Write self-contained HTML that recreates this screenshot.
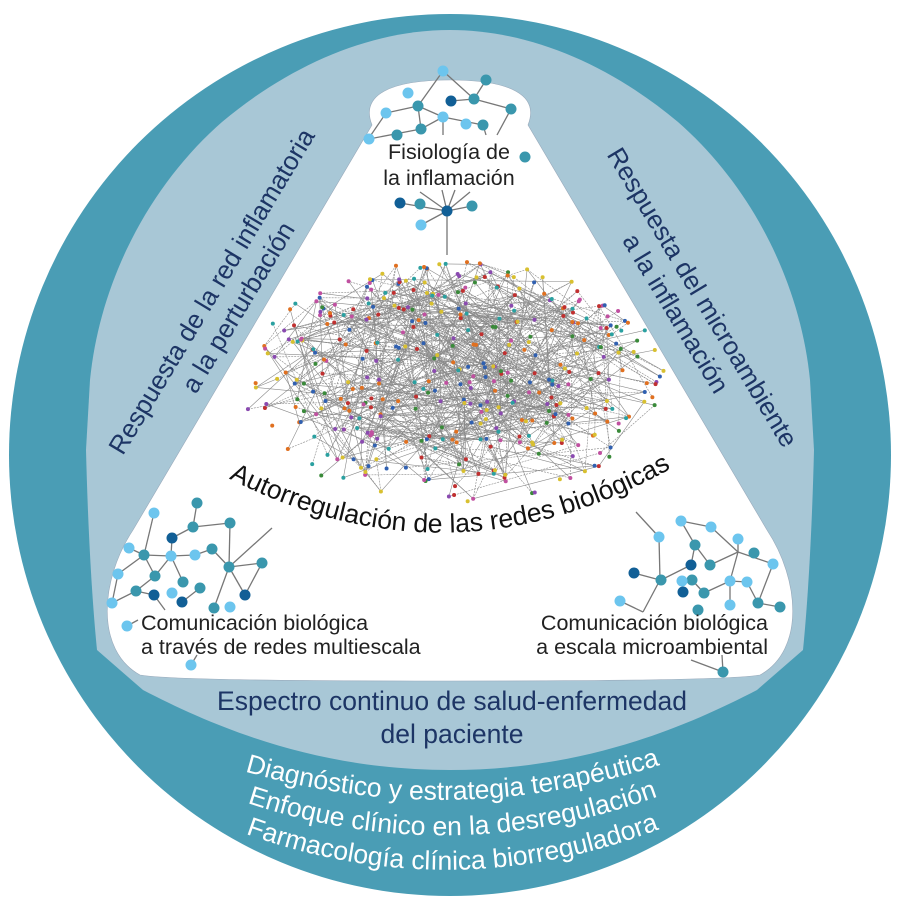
<!DOCTYPE html>
<html><head><meta charset="utf-8"><style>
html,body{margin:0;padding:0;background:#fff}
svg{display:block}
text{font-family:"Liberation Sans",sans-serif}
</style></head><body>
<svg id="s" width="900" height="900" viewBox="0 0 900 900" xmlns="http://www.w3.org/2000/svg">
<circle cx="450" cy="455" r="441" fill="#4a9db5"/>
<path d="M450 30 C370 30 290 65 222 122 C150 185 100 280 90 380 L86 450 C88 530 92 600 97 650 L143 690 C220 730 320 770 450 770 C580 770 680 730 757 690 L803 650 C808 600 812 530 814 450 L810 380 C800 280 750 185 678 122 C610 65 530 30 450 30 Z" fill="#a8c7d6"/>
<path d="M372 125 C360 95 390 80 450 80 C510 80 540 95 528 125 L767 530 C800 580 805 650 760 675 C730 680 600 681 450 681 C300 681 170 680 140 675 C95 650 100 580 133 530 Z" fill="#fff" stroke="#9ab" stroke-width="0.6"/>
<g id="hair"></g>
<g id="small" stroke="#777" stroke-width="1.3"></g>
<text font-size="21.5" fill="#222" text-anchor="middle"><tspan x="449" y="159">Fisiología de</tspan><tspan x="449" y="185">la inflamación</tspan></text>
<text font-size="21.5" fill="#222"><tspan x="141" y="630">Comunicación biológica</tspan><tspan x="141" y="654">a través de redes multiescala</tspan></text>
<text font-size="21.5" fill="#222" text-anchor="end"><tspan x="768" y="630">Comunicación biológica</tspan><tspan x="768" y="654">a escala microambiental</tspan></text>
<path id="arc" d="M228 478 Q450 592 672 468" fill="none"/>
<text font-size="26.5" fill="#111"><textPath href="#arc" startOffset="50%" text-anchor="middle">Autorregulación de las redes biológicas</textPath></text>
<text font-size="26" fill="#1d3565" text-anchor="middle" transform="translate(226,300) rotate(-59)"><tspan x="0" y="-8">Respuesta de la red inflamatoria</tspan><tspan x="0" y="23">a la perturbación</tspan></text>
<text font-size="26" fill="#1d3565" text-anchor="middle" transform="translate(688,306) rotate(59)"><tspan x="0" y="-8">Respuesta del microambiente</tspan><tspan x="0" y="23">a la inflamación</tspan></text>
<text font-size="26.5" fill="#1d3565" text-anchor="middle"><tspan x="452" y="710">Espectro continuo de salud-enfermedad</tspan><tspan x="452" y="743">del paciente</tspan></text>
<path id="b1" d="M230 767 Q452 836 675 760" fill="none"/>
<path id="b2" d="M230 797 Q452 877 675 790" fill="none"/>
<path id="b3" d="M230 828 Q452 914 675 823" fill="none"/>
<g font-size="26.5" fill="#fff">
<text><textPath href="#b1" startOffset="50%" text-anchor="middle">Diagnóstico y estrategia terapéutica</textPath></text>
<text><textPath href="#b2" startOffset="50%" text-anchor="middle">Enfoque clínico en la desregulación</textPath></text>
<text><textPath href="#b3" startOffset="50%" text-anchor="middle">Farmacología clínica biorreguladora</textPath></text>
</g>
</svg>
<script>
var NS="http://www.w3.org/2000/svg";
function el(p,t,a){var e=document.createElementNS(NS,t);for(var k in a)e.setAttribute(k,a[k]);p.appendChild(e);return e;}
var h=document.getElementById('hair');
var seed=7;function r(){seed=(seed*16807)%2147483647;return seed/2147483647;}
var pts=[];
for(var i=0;i<420;i++){var a=r()*6.283,d=Math.sqrt(r());pts.push([453+Math.cos(a)*d*212,382+Math.sin(a)*d*122]);}
for(var i=0;i<800;i++){var p=pts[Math.floor(r()*pts.length)],q=pts[Math.floor(r()*pts.length)];
if(Math.hypot(p[0]-q[0],p[1]-q[1])>220)continue;
el(h,'line',{x1:p[0],y1:p[1],x2:q[0],y2:q[1],stroke:'#8a8a8a','stroke-width':0.6,'stroke-dasharray':r()<.5?'2 1':''});}
var cols=['#c03030','#3a8a3a','#8a4ab0','#d8c030','#3060b0','#c050a0','#2aa0a0','#e07020'];
pts.forEach(function(p){el(h,'circle',{cx:p[0],cy:p[1],r:2,fill:cols[Math.floor(r()*cols.length)]});});
var s=document.getElementById('small');
var L='#6cc5ee',M='#3a97ad',D='#115f96';
var E=[[443,71,418,106],[443,71,474,99],[486,80,474,99],[451,101,474,99],[474,99,511,109],[511,109,497,135],[418,106,386,113],[386,113,371,135],[418,106,443,117],[418,106,421,129],[443,117,483,125],[421,129,443,117],[421,129,369,139],[443,117,443,135],[483,125,486,135],
[400,203,447,211],[447,211,472,206],[447,211,421,225],[447,211,420,192],[447,211,442,190],[447,211,455,190],[447,211,470,192],[447,211,447,255],
[197,503,193,527],[154,513,144,555],[193,527,230,523],[193,527,172,538],[172,538,171,556],[144,555,129,548],[144,555,171,556],[171,556,195,555],[195,555,212,549],[212,549,229,567],[229,567,262,563],[229,567,245,595],[262,563,245,595],[230,523,229,567],[171,556,155,576],[171,556,183,582],[144,555,155,576],[144,555,118,574],[118,574,112,603],[136,591,112,603],[136,591,155,576],[136,591,154,595],[200,588,182,602],[229,567,214,608],[229,567,272,528],[154,595,165,610],[191,665,197,655],[127,626,138,620],
[659,537,636,512],[659,537,660,580],[681,521,711,527],[681,521,695,545],[711,527,738,552],[695,545,691,565],[695,545,710,565],[710,565,738,552],[738,552,738,539],[738,552,773,564],[738,552,730,581],[773,564,758,603],[660,580,634,573],[661,580,691,565],[692,580,704,593],[704,593,730,581],[730,581,747,582],[747,582,758,603],[758,603,780,607],[620,601,643,612],[660,580,643,612],[730,581,730,605],[691,660,723,672],[723,672,722,655]];
E.forEach(function(e){el(s,'line',{x1:e[0],y1:e[1],x2:e[2],y2:e[3]});});
var N=[[443,71,L],[486,80,M],[408,93,L],[451,101,D],[474,99,M],[418,106,M],[386,113,L],[511,109,M],[443,117,L],[466,124,L],[483,125,M],[421,129,M],[397,135,M],[369,139,L],[525,157,M],
[400,203,D],[420,204,M],[447,211,D],[472,206,M],[421,225,L],
[197,503,M],[154,513,L],[193,527,M],[230,523,M],[172,538,D],[129,548,L],[144,555,M],[171,556,L],[195,555,L],[212,549,M],[262,563,M],[229,567,M],[118,574,L],[155,576,M],[183,582,M],[136,591,M],[154,595,D],[172,593,L],[200,588,M],[182,602,D],[245,595,D],[112,603,L],[214,608,M],[230,607,L],[127,626,L],[191,665,L],
[681,521,L],[711,527,L],[659,537,L],[738,539,L],[695,545,M],[754,553,M],[691,565,D],[710,565,M],[773,564,L],[634,573,D],[661,580,M],[692,580,M],[682,581,L],[730,581,L],[747,582,L],[683,592,D],[704,593,M],[620,601,L],[758,603,M],[730,605,L],[780,607,M],[698,610,M],[723,672,M]];
N.forEach(function(n){el(s,'circle',{cx:n[0],cy:n[1],r:5.5,fill:n[2],stroke:'none'});});
</script>
</body></html>
